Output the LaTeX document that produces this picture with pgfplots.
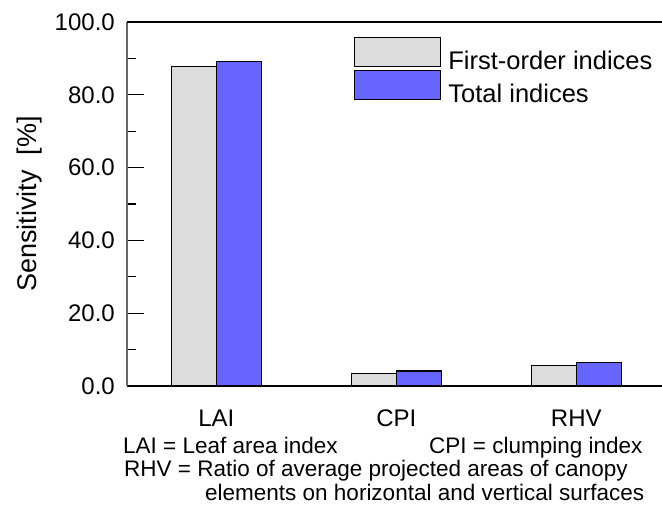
\documentclass[border=0pt]{standalone}
\usepackage{pgfplots}
\pgfplotsset{compat=1.18}
\usepackage{fontspec}
\setmainfont{Liberation Sans}
\definecolor{barGray}{RGB}{220,220,220}
\definecolor{barBlue}{RGB}{102,102,255}
\begin{document}
\begin{tikzpicture}
\useasboundingbox (-127pt,-118pt) rectangle (535pt,386pt);
\begin{axis}[
  scale only axis,
  width=535pt, height=364pt,
  at={(0pt,0pt)}, anchor=south west,
  xmin=-0.496, xmax=2.476,
  ymin=0, ymax=100,
  axis line style={black, line width=1.2pt},
  axis x line=bottom,
  axis y line=left,
  separate axis lines,
  y axis line style={draw=black!60, -},
  x axis line style={-},
  xtick={0,1,2},
  xticklabels={LAI,CPI,RHV},
  xtick style={draw=none},
  ytick={0,20,40,60,80,100},
  minor ytick={10,30,50,70,90},
  ytick style={black, line width=1.2pt},
  minor tick style={black!60, line width=1.2pt},
  tick align=inside,
  major tick length=17pt,
  minor tick length=9pt,
  /pgf/number format/fixed,
  /pgf/number format/fixed zerofill,
  /pgf/number format/precision=1,
  /pgf/number format/assume math mode=true,
  yticklabel style={inner sep=0pt, xshift=-12pt, font=\fontsize{24}{28}\selectfont},
  xticklabel style={inner sep=0pt, anchor=north, yshift=-7pt, font=\fontsize{24}{28}\selectfont},
  ylabel={Sensitivity\ \ [\%]},
  ylabel style={at={([xshift=-90pt]axis description cs:0,0.5)}, anchor=base, inner sep=0pt, font=\fontsize{27}{31}\selectfont},
  ybar=0pt,
  bar width=45pt,
  legend cell align=left,
  legend style={draw=none, fill=none, at={([xshift=227pt,yshift=-15pt]axis description cs:0,1)}, anchor=north west,
    inner sep=0pt, row sep=-1pt, font=\fontsize{25.5}{30}\selectfont,
    nodes={inner sep=0pt},
    /tikz/every odd column/.append style={column sep=7pt}},
  legend image code/.code={\draw[#1, line width=1.2pt] (0pt,-5.9pt) rectangle (86pt,23.1pt);},
  clip=false,
]
\addplot[draw=black, line width=1.2pt, fill=barGray] coordinates {(0,87.8) (1,3.5) (2,5.6)};
\addlegendentry{First-order indices}
\addplot[draw=black, line width=1.2pt, fill=barBlue] coordinates {(0,89.2) (1,4.1) (2,6.5)};
\addlegendentry{Total indices}
\draw[black, line width=1.2pt] (rel axis cs:0,1) -- (rel axis cs:1,1);
\end{axis}
\begin{scope}[font=\fontsize{22.5}{26}\selectfont]
\node[anchor=base west, inner sep=0pt] at (-4pt,-67pt) {LAI = Leaf area index};
\node[anchor=base west, inner sep=0pt] at (302pt,-67pt) {CPI = clumping index};
\node[anchor=base west, inner sep=0pt] at (-3pt,-90.5pt) {RHV = Ratio of average projected areas of canopy};
\node[anchor=base west, inner sep=0pt] at (78pt,-114pt) {elements on horizontal and vertical surfaces};
\end{scope}
\end{tikzpicture}
\end{document}
